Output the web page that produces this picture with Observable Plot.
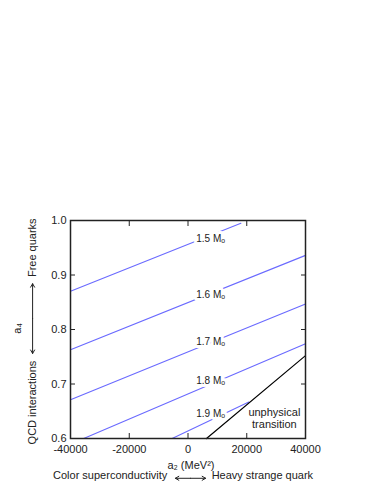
<!DOCTYPE html>
<html>
<head>
<meta charset="utf-8">
<script src="https://cdn.jsdelivr.net/npm/d3@7"></script>
<script src="https://cdn.jsdelivr.net/npm/@observablehq/plot@0.6"></script>
<style>
body { margin: 0; background: #fff; }
</style>
</head>
<body>
<div id="chart"></div>
<script>
// Tick values
const xTicks = [-40000, -20000, 0, 20000, 40000];
const yTicks = [0.6, 0.7, 0.8, 0.9, 1.0];

// Contour lines (mass levels): endpoints
const levels = ["1.5", "1.6", "1.7", "1.8", "1.9"];
const contourA2 = [[-40000, 18000], [-40000, 40000], [-40000, 40000], [-35500, 40000], [-5400, 20700]];
const contourA4 = [[0.870, 0.995], [0.763, 0.936], [0.671, 0.847], [0.600, 0.774], [0.600, 0.667]];

// Label positions for contour levels
const labelA2 = [7700, 7700, 7700, 7700, 7700];
const labelA4 = [0.967, 0.864, 0.778, 0.705, 0.646];

// Unphysical transition line
const unphysA2 = [6300, 40000];
const unphysA4 = [0.600, 0.752];

const contourData = levels.flatMap((lv, i) =>
  contourA2[i].map((a2, j) => ({level: lv, a2, a4: contourA4[i][j]})));
const unphysData = unphysA2.map((a2, j) => ({a2, a4: unphysA4[j]}));
const labelData = levels.map((lv, i) => ({text: lv + " M\u2092", a2: labelA2[i], a4: labelA4[i]}));

// Annotation arrows (data coords, outside frame)
const hArrow = {center: 850, left: -4300, right: 6000, a4: 0.527};
const vArrow = {a2: -52900, center: 0.820, up: 0.884, down: 0.756};

const font = "Liberation Sans, Arial, Helvetica, sans-serif";

const chart = Plot.plot({
  width: 383,
  height: 495,
  marginTop: 220,
  marginLeft: 70,
  marginRight: 78,
  marginBottom: 57,
  style: {fontFamily: font, fontSize: "11px", color: "#222", background: "#fff"},
  x: {domain: [-40000, 40000]},
  y: {domain: [0.6, 1.0]},
  marks: [
    Plot.line(contourData, {x: "a2", y: "a4", z: "level", stroke: "#6a6aff", strokeWidth: 1.1}),
    Plot.line(unphysData, {x: "a2", y: "a4", stroke: "#000", strokeWidth: 1.2}),
    Plot.text(labelData, {x: "a2", y: "a4", text: "text", fontSize: 10, fill: "#222", stroke: "white", strokeWidth: 6, paintOrder: "stroke"}),
    Plot.text(["unphysical\ntransition"], {x: 29400, y: 0.638, text: d => d, fontSize: 11, lineHeight: 1.15, fill: "#222"}),
    Plot.frame({stroke: "#222", strokeWidth: 1.5}),
    Plot.axisX({ticks: xTicks, tickSize: -5, tickPadding: 12, tickFormat: d => String(d), label: null, fontSize: 11}),
    Plot.axisX({anchor: "top", ticks: xTicks, tickSize: -5, tickFormat: () => "", label: null}),
    Plot.axisY({ticks: yTicks, tickSize: -5, tickPadding: 9, tickFormat: d3.format(".1f"), label: null, fontSize: 11}),
    Plot.axisY({anchor: "right", ticks: yTicks, tickSize: -5, tickFormat: () => "", label: null}),
    // Axis titles
    Plot.text(["a\u2082 (MeV\u00b2)"], {frameAnchor: "bottom", x: 1000, dy: 30, text: d => d, fontSize: 11, fill: "#222"}),
    Plot.text(["Color superconductivity"], {x: hArrow.left, frameAnchor: "bottom", dy: 40, dx: -8, text: d => d, textAnchor: "end", fontSize: 11, fill: "#222"}),
    Plot.text(["Heavy strange quark"], {x: hArrow.right, frameAnchor: "bottom", dy: 40, dx: 6, text: d => d, textAnchor: "start", fontSize: 11, fill: "#222"}),
    Plot.arrow([hArrow], {x1: "center", x2: "left", y1: "a4", y2: "a4", headLength: 6, strokeWidth: 1, stroke: "#222"}),
    Plot.arrow([hArrow], {x1: "center", x2: "right", y1: "a4", y2: "a4", headLength: 6, strokeWidth: 1, stroke: "#222"}),
    Plot.arrow([vArrow], {x1: "a2", x2: "a2", y1: "center", y2: "up", headLength: 6, strokeWidth: 1, stroke: "#222"}),
    Plot.arrow([vArrow], {x1: "a2", x2: "a2", y1: "center", y2: "down", headLength: 6, strokeWidth: 1, stroke: "#222"}),
    Plot.text(["Free quarks"], {x: -52900, y: 0.950, text: d => d, rotate: -90, fontSize: 11, fill: "#222"}),
    Plot.text(["QCD interactions"], {x: -52900, y: 0.666, text: d => d, rotate: -90, fontSize: 11, fill: "#222"}),
    Plot.text(["a\u2084"], {x: -58000, y: 0.802, text: d => d, rotate: -90, fontSize: 11, fill: "#222"})
  ]
});
document.getElementById("chart").appendChild(chart);
</script>
</body>
</html>
